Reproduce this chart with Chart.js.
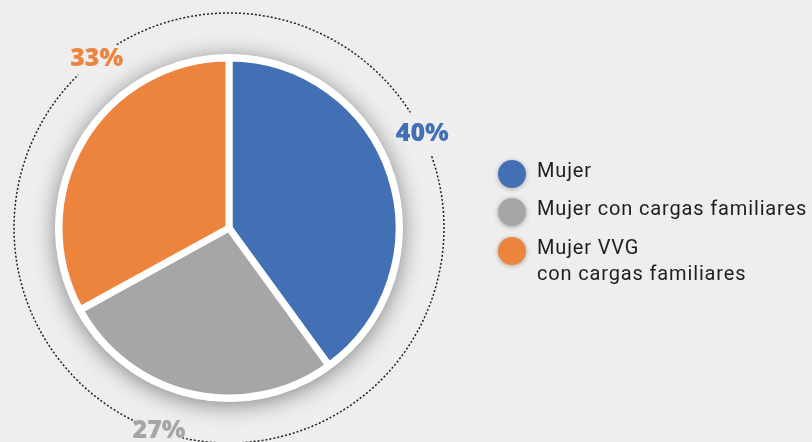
<!DOCTYPE html>
<html>
<head>
<meta charset="utf-8">
<script src="https://cdn.jsdelivr.net/npm/chart.js@4.4.0/dist/chart.umd.min.js"></script>
<style>
  body { margin: 0; background: #eeeeee; }
  #wrap { width: 812px; height: 442px; position: relative; }
</style>
</head>
<body>
<div id="wrap"><canvas id="pie" width="812" height="442"></canvas></div>
<script>
// Data
const categories = ["Mujer", "Mujer con cargas familiares", "Mujer VVG con cargas familiares"];
const legendLines = [["Mujer"], ["Mujer con cargas familiares"], ["Mujer VVG", "con cargas familiares"]];
const shares = [40, 27, 33];
const percentLabels = ["40%", "27%", "33%"];

// Styles
const sliceColors = ["#436fb5", "#a6a6a6", "#ec843d"];
const labelAngles = [64, 199, 322]; // degrees clockwise from top, on the dotted ring
const ringRadius = 215;
const labelFont = "800 25px 'Open Sans'";

// dotted ring, shadow disc, outside labels
const decorPlugin = {
  id: "decor",
  beforeDatasetsDraw(chart) {
    const ctx = chart.ctx;
    const arc = chart.getDatasetMeta(0).data[0];
    const cx = arc.x, cy = arc.y, r = arc.outerRadius;

    // gaps in the ring sized to each label
    ctx.save();
    ctx.font = labelFont;
    const gaps = labelAngles.map((a, i) => ({
      at: (a - 90) * Math.PI / 180,
      half: (ctx.measureText(percentLabels[i]).width / 2 - 2) / ringRadius
    })).sort((a, b) => a.at - b.at);
    ctx.strokeStyle = "#222222";
    ctx.lineWidth = 1.5;
    ctx.setLineDash([2, 2]);
    for (let i = 0; i < gaps.length; i++) {
      const next = i + 1 < gaps.length ? gaps[i + 1] : { at: gaps[0].at + 2 * Math.PI, half: gaps[0].half };
      ctx.beginPath();
      ctx.arc(cx, cy, ringRadius, gaps[i].at + gaps[i].half, next.at - next.half);
      ctx.stroke();
    }
    ctx.restore();

    // soft shadow under the pie
    ctx.save();
    ctx.shadowColor = "rgba(0,0,0,0.45)";
    ctx.shadowBlur = 22;
    ctx.shadowOffsetY = 3;
    ctx.fillStyle = "#ffffff";
    ctx.beginPath();
    ctx.arc(cx, cy, r + 4, 0, 2 * Math.PI);
    ctx.fill();
    ctx.restore();
  },
  afterDatasetsDraw(chart) {
    const ctx = chart.ctx;
    const arc = chart.getDatasetMeta(0).data[0];
    const cx = arc.x, cy = arc.y;

    ctx.save();
    ctx.font = labelFont;
    ctx.textAlign = "center";
    ctx.textBaseline = "middle";
    percentLabels.forEach((txt, i) => {
      const a = (labelAngles[i] - 90) * Math.PI / 180;
      ctx.fillStyle = sliceColors[i];
      ctx.fillText(txt, cx + ringRadius * Math.cos(a), cy + ringRadius * Math.sin(a));
    });
    ctx.restore();

    // legend on the right
    const lx = 512, ty = [174, 212, 251];
    ctx.save();
    ctx.font = "20px Roboto";
    ctx.letterSpacing = "0.85px";
    ctx.textBaseline = "middle";
    legendLines.forEach((lines, i) => {
      ctx.save();
      ctx.shadowColor = "rgba(0,0,0,0.3)";
      ctx.shadowBlur = 5;
      ctx.shadowOffsetY = 1;
      ctx.fillStyle = sliceColors[i];
      ctx.beginPath();
      ctx.arc(lx, ty[i], 14, 0, 2 * Math.PI);
      ctx.fill();
      ctx.restore();
      ctx.fillStyle = "#1e1e1e";
      lines.forEach((ln, j) => ctx.fillText(ln, 537, ty[i] - 2 + j * 26));
    });
    ctx.restore();
  }
};

new Chart(document.getElementById("pie"), {
  type: "pie",
  data: {
    labels: categories,
    datasets: [{
      data: shares,
      backgroundColor: sliceColors,
      borderColor: "#ffffff",
      borderWidth: 7,
      hoverOffset: 0
    }]
  },
  options: {
    responsive: false,
    devicePixelRatio: 1,
    animation: false,
    radius: 170,
    layout: { padding: { left: 10, right: 364, top: 24, bottom: 10 } },
    plugins: {
      legend: { display: false },
      tooltip: { enabled: false }
    }
  },
  plugins: [decorPlugin]
});
</script>
</body>
</html>
